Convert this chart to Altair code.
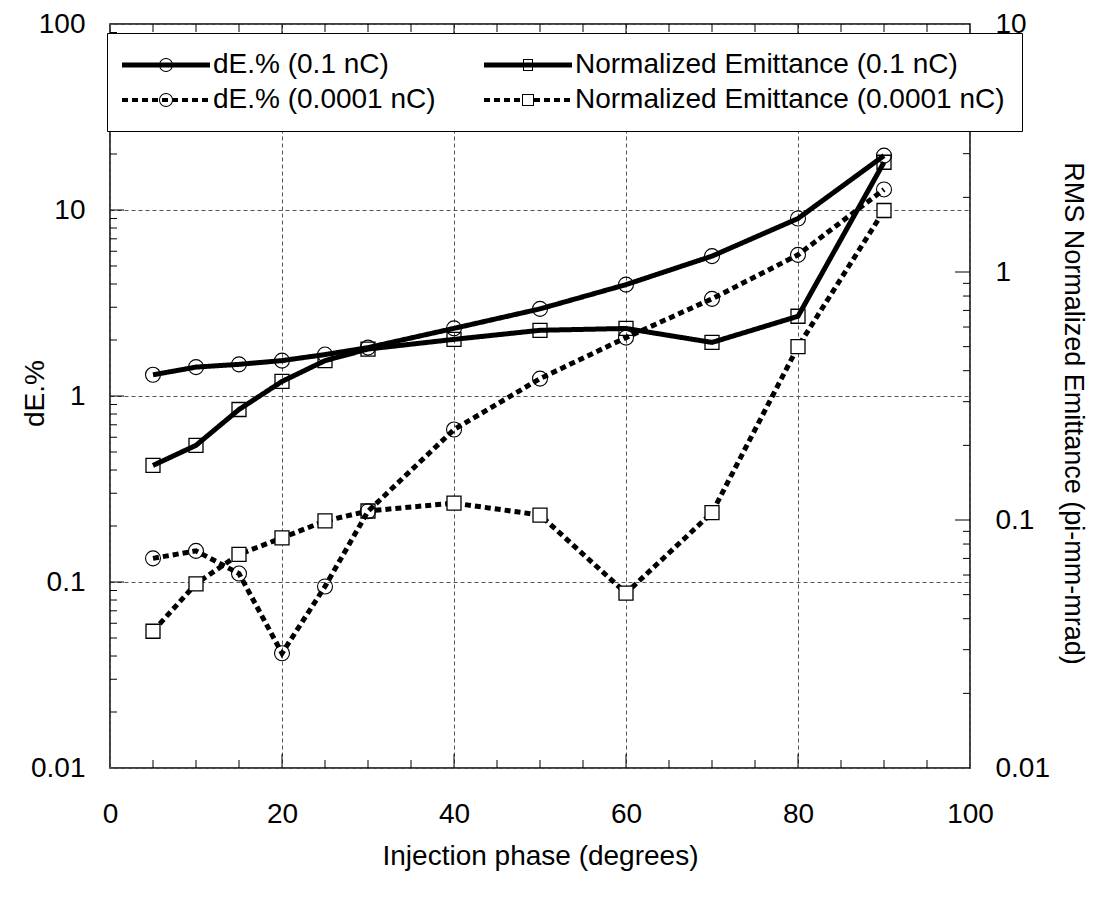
import math
import altair as alt
import pandas as pd

FONT = "Liberation Sans"
FS = 28

# ---------------- data ----------------
phase = [5, 10, 15, 20, 25, 30, 40, 50, 60, 70, 80, 90]
de_01nc = [1.30, 1.43, 1.48, 1.55, 1.67, 1.82, 2.31, 2.94, 3.97, 5.65, 9.0, 19.6]
de_00001nc = [0.134, 0.147, 0.111, 0.0414, 0.0946, 0.24, 0.66, 1.24, 2.06, 3.33, 5.74, 12.9]
em_01nc = [0.166, 0.200, 0.279, 0.362, 0.439, 0.489, 0.535, 0.582, 0.592, 0.520, 0.663, 2.77]
em_00001nc = [0.0356, 0.0553, 0.0727, 0.0847, 0.0991, 0.1087, 0.117, 0.1047, 0.0507, 0.107, 0.50, 1.77]

de_names = ["dE.% (0.1 nC)", "dE.% (0.0001 nC)"]
em_names = ["Normalized Emittance (0.1 nC)", "Normalized Emittance (0.0001 nC)"]
key_names = [de_names[0], de_names[1], em_names[0], em_names[1]]

x_labels = [0, 20, 40, 60, 80, 100]
x_major = [20, 40, 60, 80]
x_minor = [5, 10, 15, 25, 30, 35, 45, 50, 55, 65, 70, 75, 85, 90, 95]
left_labels = [0.01, 0.1, 1, 10, 100]
left_major = [0.1, 1, 10]
left_minor = [round(k * 10 ** d, 6) for d in range(-2, 2) for k in range(2, 10)]
right_labels = [0.01, 0.1, 1, 10]
right_major = [0.1, 1]
right_minor = [round(k * 10 ** d, 6) for d in range(-2, 1) for k in range(2, 10)]

W, H = 860, 744
TOP = 16

de_df = pd.DataFrame({
    "phase": phase * 2,
    "value": de_01nc + de_00001nc,
    "series": [de_names[0]] * len(phase) + [de_names[1]] * len(phase),
})
em_df = pd.DataFrame({
    "phase": phase * 2,
    "value": em_01nc + em_00001nc,
    "series": [em_names[0]] * len(phase) + [em_names[1]] * len(phase),
})
key_df = pd.DataFrame({"series": key_names, "value": [1, 1, 1, 1]})

# ---------------- legend symbol shapes (line + marker as filled paths) ----------------
U = 15.0  # symbolSize 900 -> sqrt 30 -> 15 px per unit
HALF = 44


def _n(v):
    v = round(v / U, 3)
    s = f"{v:.3f}"
    return "0" if s in ("0.000", "-0.000") else s


def _p(x, y):
    return f"{_n(x)},{_n(y)}"


def rect_cw(x0, y0, x1, y1):
    return f"M{_p(x0, y0)}L{_p(x1, y0)}L{_p(x1, y1)}L{_p(x0, y1)}L{_p(x0, y0)}"


def rect_ccw(x0, y0, x1, y1):
    return f"M{_p(x0, y0)}L{_p(x0, y1)}L{_p(x1, y1)}L{_p(x1, y0)}L{_p(x0, y0)}"


def circle(r, cw=True, n=24):
    s = 1 if cw else -1
    pts = [_p(r * math.cos(s * 2 * math.pi * i / n), r * math.sin(s * 2 * math.pi * i / n)) for i in range(n + 1)]
    return "M" + "L".join(pts)


def dashes(skip=None):
    out = []
    a = -HALF
    while a < HALF:
        b = min(a + 6, HALF)
        parts = [(a, b)]
        if skip is not None:
            parts = []
            if a < -skip:
                parts.append((a, min(b, -skip)))
            if b > skip:
                parts.append((max(a, skip), b))
        for (c, d) in parts:
            out.append(rect_cw(c, -2, d, 2))
        a += 10
    return "".join(out)


solid = rect_cw(-HALF, -2.5, HALF, 2.5)
ring_c = circle(7) + circle(6, cw=False)
ring_s_thin = rect_cw(-5, -6, 5, 6) + rect_ccw(-4, -5, 4, 5)
ring_s = rect_cw(-6, -6, 6, 6) + rect_ccw(-5, -5, 5, 5)

P_DE_SOLID = solid + ring_c
P_DE_DASH = dashes() + ring_c
P_EM_SOLID = solid + ring_s_thin
P_EM_DASH = dashes(skip=6) + ring_s
key_paths = [P_DE_SOLID, P_DE_DASH, P_EM_SOLID, P_EM_DASH]

# ---------------- scales & axes ----------------
xs = alt.Scale(domain=[0, 100], nice=False, zero=False)
yl = alt.Scale(type="log", domain=[0.01, 100], nice=False)
yr = alt.Scale(type="log", domain=[0.01, 10], nice=False)

common_axis = dict(
    labelFont=FONT, labelFontSize=FS, labelColor="black", labelFlush=False, labelOverlap=False,
    titleFont=FONT, titleFontSize=FS, titleFontWeight="normal", titleColor="black",
    ticks=False, domain=False,
)
x_axis = alt.Axis(values=x_labels, grid=True, gridColor="#555555", gridDash=[4, 3], gridWidth=1,
                  labelPadding=32, title="Injection phase (degrees)", titlePadding=14, **common_axis)
left_axis = alt.Axis(values=left_labels, format="~g", grid=True, gridColor="#555555", gridDash=[4, 3],
                     gridWidth=1, labelPadding=25, orient="left", title="dE.%",
                     titleAngle=270, titleX=-75, titleY=393 - 8 - TOP, titleBaseline="middle",
                     titleAlign="center", **common_axis)
right_axis = alt.Axis(values=right_labels, format="~g", grid=False, labelPadding=25, orient="right",
                      title="RMS Normalized Emittance (pi-mm-mrad)", titleAngle=90, titleX=102,
                      titleY=413 - 8 - TOP, titleBaseline="middle", titleAlign="center",
                      **{**common_axis, "titleFontSize": 27})

X = alt.X("phase:Q", scale=xs, axis=x_axis)
XV = alt.X("v:Q", scale=xs, axis=x_axis)
YR = alt.Y("value:Q", scale=yr, axis=right_axis)
YL = alt.Y("value:Q", scale=yl, axis=left_axis)

# ---------------- right (emittance) layers ----------------
em_lines = alt.Chart(em_df).mark_line(color="black", strokeWidth=5, strokeCap="butt").encode(
    x=X, y=YR,
    strokeDash=alt.StrokeDash("series:N", legend=None,
                              scale=alt.Scale(domain=em_names, range=[[1, 0], [6, 4]])),
)
em_sq_solid = alt.Chart(em_df).transform_filter(alt.datum.series == em_names[0]).mark_point(
    shape="square", size=196, filled=False, color="black", strokeWidth=1.3, opacity=1
).encode(x=X, y=YR)
em_sq_dash = alt.Chart(em_df).transform_filter(alt.datum.series == em_names[1]).mark_point(
    shape="square", size=196, filled=True, fill="white", stroke="black", strokeWidth=1.3, opacity=1
).encode(x=X, y=YR)

r_major = alt.Chart(pd.DataFrame({"v": right_major})).mark_rule(color="black", strokeWidth=1).encode(
    y=alt.Y("v:Q", scale=yr, axis=right_axis), x=alt.value(W), x2=alt.value(W - 15))
r_minor = alt.Chart(pd.DataFrame({"v": right_minor})).mark_rule(color="black", strokeWidth=1).encode(
    y=alt.Y("v:Q", scale=yr, axis=right_axis), x=alt.value(W), x2=alt.value(W - 7))

right = alt.layer(em_lines, em_sq_solid, em_sq_dash, r_major, r_minor)

# ---------------- left (dE) layers ----------------
de_lines = alt.Chart(de_df).mark_line(color="black", strokeWidth=5, strokeCap="butt").encode(
    x=X, y=YL,
    strokeDash=alt.StrokeDash("series:N", legend=None,
                              scale=alt.Scale(domain=de_names, range=[[1, 0], [6, 4]])),
)
de_circ = alt.Chart(de_df).mark_point(
    shape="circle", size=225, filled=False, color="black", strokeWidth=1.1, opacity=1
).encode(x=X, y=YL)

l_major = alt.Chart(pd.DataFrame({"v": left_major})).mark_rule(color="black", strokeWidth=1).encode(
    y=alt.Y("v:Q", scale=yl, axis=left_axis), x=alt.value(0), x2=alt.value(14))
l_minor = alt.Chart(pd.DataFrame({"v": left_minor})).mark_rule(color="black", strokeWidth=1).encode(
    y=alt.Y("v:Q", scale=yl, axis=left_axis), x=alt.value(0), x2=alt.value(7))

xb_major = alt.Chart(pd.DataFrame({"v": x_major})).mark_rule(color="black", strokeWidth=1).encode(
    x=XV, y=alt.value(H), y2=alt.value(H - 14))
xb_minor = alt.Chart(pd.DataFrame({"v": x_minor})).mark_rule(color="black", strokeWidth=1).encode(
    x=XV, y=alt.value(H), y2=alt.value(H - 8))
xt_major = alt.Chart(pd.DataFrame({"v": x_major})).mark_rule(color="black", strokeWidth=1).encode(
    x=XV, y=alt.value(0), y2=alt.value(14))
xt_minor = alt.Chart(pd.DataFrame({"v": x_minor})).mark_rule(color="black", strokeWidth=1).encode(
    x=XV, y=alt.value(0), y2=alt.value(8))

left = alt.layer(l_major, l_minor, xb_major, xb_minor, xt_major, xt_minor, de_lines, de_circ)

# ---------------- legend key (top-level layer, empty marks; legend only) ----------------
key = alt.Chart(key_df).transform_filter("datum.value < 0").mark_point(
    filled=True, color="black", size=900, opacity=1, strokeWidth=0
).encode(
    shape=alt.Shape(
        "series:N", title=None,
        scale=alt.Scale(domain=key_names, range=key_paths),
        legend=alt.Legend(
            orient="none", legendX=-3, legendY=33 - 8 - TOP, columns=2, columnPadding=48,
            fillColor="white", strokeColor="black", padding=17, rowPadding=6,
            labelFont=FONT, labelFontSize=FS, labelColor="black", labelLimit=700,
            symbolSize=900, symbolOffset=27, labelOffset=32,
            symbolStrokeWidth=0, symbolFillColor="black", symbolOpacity=1,
        ),
    ),
)

chart = alt.layer(right, left, key).resolve_scale(
    y="independent", strokeDash="independent"
).properties(
    width=W, height=H,
    autosize=alt.AutoSizeParams(type="none"),
    padding={"left": 102, "top": TOP, "right": 119, "bottom": 111},
    background="white",
).configure_view(stroke="black", strokeWidth=1.5)

chart.save("out.html", embed_options={"renderer": "svg", "actions": False})
